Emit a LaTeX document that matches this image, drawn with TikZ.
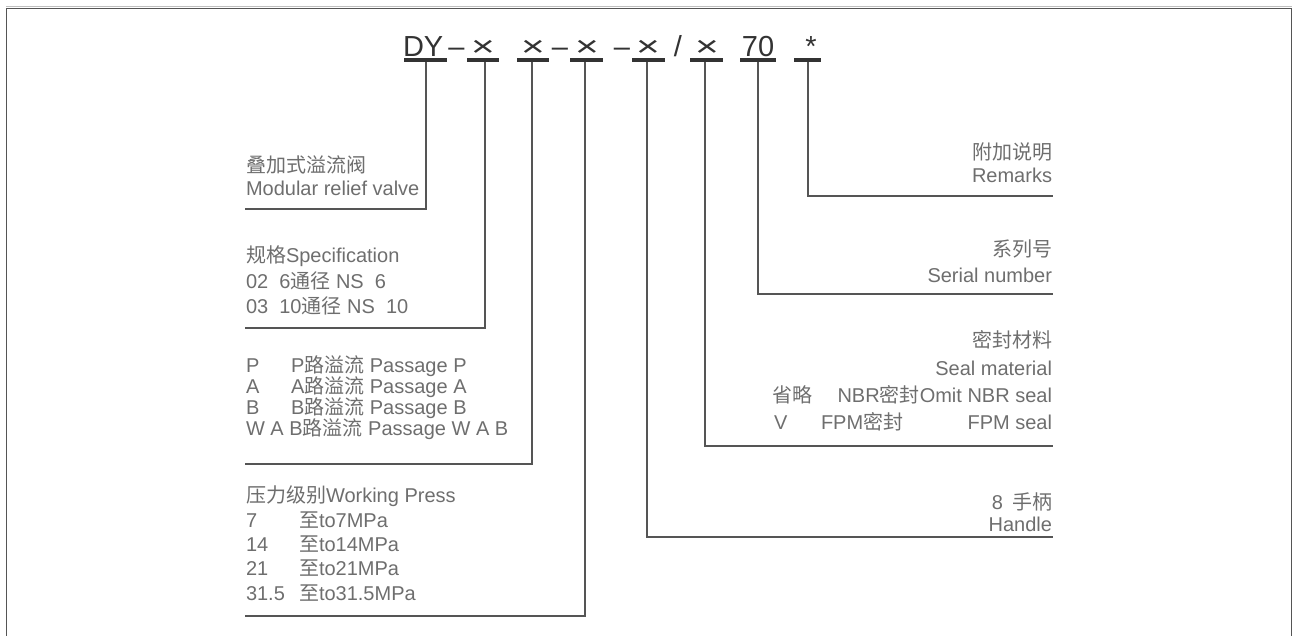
\documentclass[tikz,border=0pt]{standalone}
\usepackage{fontspec}
\setmainfont{Liberation Sans}
\newfontfamily\cjk{Noto Sans CJK SC}
\newcommand\zh[1]{{\cjk #1}}
\definecolor{txt}{HTML}{6E6E6E}
\definecolor{ln}{HTML}{555555}
\definecolor{hd}{HTML}{333333}
\begin{document}
\begin{tikzpicture}[x=1pt,y=-1pt,
  lbl/.style={inner sep=0pt,outer sep=0pt,text=txt,font=\fontsize{20}{24}\selectfont},
  lw/.style={lbl,anchor=base west},
  le/.style={lbl,anchor=base east},
  hdr/.style={inner sep=0pt,outer sep=0pt,text=hd,font=\fontsize{29}{34}\selectfont,anchor=base},
  mul/.style={hdr,xscale=1.4},
  ul/.style={draw=hd,line width=3.5pt},
  conn/.style={draw=ln,line width=1.3pt},
  frame/.style={draw=ln,line width=1.4pt}]
\useasboundingbox (0,0) rectangle (1292,635);
% frame
\draw[draw=black!25,line width=1pt] (6,6.8) -- (1292,6.8);
\draw[frame] (6.5,636) -- (6.5,8.6) -- (1291.3,8.6) -- (1291.3,636);

% header
\node[hdr,anchor=base west] (dy) at (403,56) {DY};
\node[hdr] (m1) at (456.5,56) {–};
\node[mul] (x1) at (483,56) {×};
\node[mul] (x2) at (533,56) {×};
\node[hdr] (m2) at (560,56) {–};
\node[mul] (x3) at (587,56) {×};
\node[hdr] (m3) at (622,56) {–};
\node[mul] (x4) at (648,56) {×};
\node[hdr] (sl) at (678,56) {/};
\node[mul] (x5) at (707,56) {×};
\node[hdr] (n70) at (758,56) {70};
\node[hdr] (st) at (811,56) {*};

% underlines
\draw[ul] (404,60) -- (447,60);
\draw[ul] (467,60) -- (499,60);
\draw[ul] (517,60) -- (549,60);
\draw[ul] (570,60) -- (603,60);
\draw[ul] (632,60) -- (665,60);
\draw[ul] (690,60) -- (723,60);
\draw[ul] (740,60) -- (776,60);
\draw[ul] (794,60) -- (821,60);

% connector coordinates
\coordinate (t1) at (426,61.5);  \coordinate (e1) at (245,209);
\coordinate (t2) at (485,61.5);  \coordinate (e2) at (245,328);
\coordinate (t3) at (532,61.5);  \coordinate (e3) at (245,464);
\coordinate (t4) at (585,61.5);  \coordinate (e4) at (245,616);
\coordinate (t5) at (647,61.5);  \coordinate (e5) at (1053,537);
\coordinate (t6) at (705,61.5);  \coordinate (e6) at (1053,446);
\coordinate (t7) at (758,61.5);  \coordinate (e7) at (1053,294);
\coordinate (t8) at (808,61.5);  \coordinate (e8) at (1053,196);
\draw[conn] (t1) |- (e1);
\draw[conn] (t2) |- (e2);
\draw[conn] (t3) |- (e3);
\draw[conn] (t4) |- (e4);
\draw[conn] (t5) |- (e5);
\draw[conn] (t6) |- (e6);
\draw[conn] (t7) |- (e7);
\draw[conn] (t8) |- (e8);

% left group 1
\node[lw] (a1) at (246,172) {\zh{叠加式溢流阀}};
\node[lw] (a2) at (246,195) {Modular relief valve};
% left group 2
\node[lw] (b1) at (246,262) {\zh{规格}Specification};
\node[lw] (b2) at (246,288) {02\ \ 6\zh{通径} NS\ \ 6};
\node[lw] (b3) at (246,313) {03\ \ 10\zh{通径} NS\ \ 10};
% left group 3
\node[lw] (c1) at (246,372) {P};
\node[lw] (c2) at (291,372) {P\zh{路溢流} Passage P};
\node[lw] (c3) at (246,393) {A};
\node[lw] (c4) at (291,393) {A\zh{路溢流} Passage A};
\node[lw] (c5) at (246,414) {B};
\node[lw] (c6) at (291,414) {B\zh{路溢流} Passage B};
\node[lw] (c7) at (246,435) {W A B\zh{路溢流} Passage W A B};
% left group 4
\node[lw] (d1) at (246,502) {\zh{压力级别}Working Press};
\node[lw] (d2) at (246,527) {7};
\node[lw] (d3) at (299,527) {\zh{至}to7MPa};
\node[lw] (d4) at (246,551) {14};
\node[lw] (d5) at (299,551) {\zh{至}to14MPa};
\node[lw] (d6) at (246,575) {21};
\node[lw] (d7) at (299,575) {\zh{至}to21MPa};
\node[lw] (d8) at (246,600) {31.5};
\node[lw] (d9) at (299,600) {\zh{至}to31.5MPa};

% right group (*)
\node[le] (r1) at (1052,159) {\zh{附加说明}};
\node[le] (r2) at (1052,182) {Remarks};
% right group (70)
\node[le] (s1) at (1052,256) {\zh{系列号}};
\node[le] (s2) at (1052,282) {Serial number};
% right group (seal)
\node[le] (v1) at (1052,347) {\zh{密封材料}};
\node[le] (v2) at (1052,375) {Seal material};
\node[lw] (v3) at (772,402) {\zh{省略}};
\node[le] (v4) at (1052,402) {NBR\zh{密封}Omit NBR seal};
\node[lw] (v5) at (774,429) {V};
\node[lw] (v6) at (821,429) {FPM\zh{密封}};
\node[le] (v7) at (1052,429) {FPM seal};
% right group (handle)
\node[le] (h1) at (1052,509) {8\hspace{9pt}\zh{手柄}};
\node[le] (h2) at (1052,531) {Handle};
\end{tikzpicture}
\end{document}
